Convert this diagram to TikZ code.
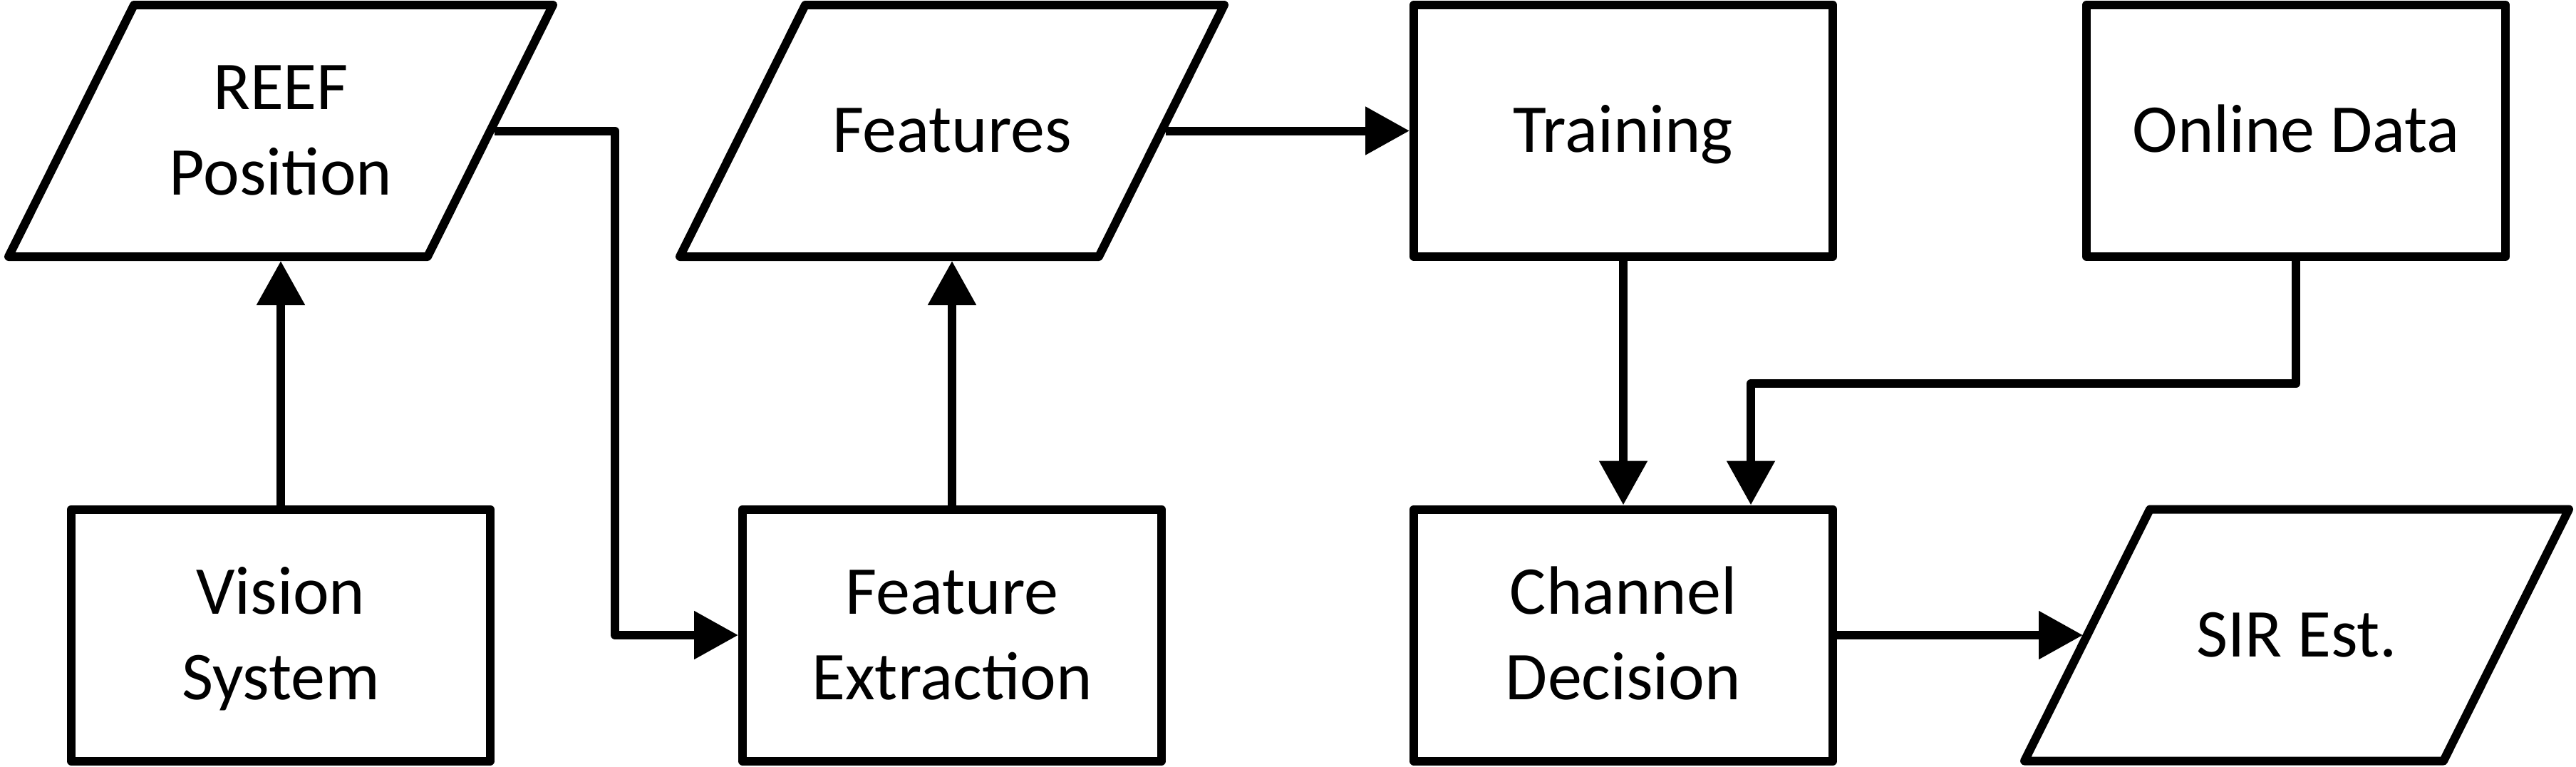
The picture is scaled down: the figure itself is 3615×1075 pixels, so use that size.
\documentclass[tikz,border=0pt]{standalone}
\usepackage{fontspec}
\setmainfont{Carlito}
\usetikzlibrary{arrows.meta,calc}
\newcommand\twolines[2]{\vbox{\halign{\hfil##\hfil\cr#1\cr#2\cr}}}
\newcommand\boxfont{\fontsize{24pt}{30pt}\selectfont}
\tikzset{
  procbox/.style={draw, line width=3pt, line join=round, minimum width=147pt,
    minimum height=88.25pt, inner sep=0pt, font=\boxfont,
    text height=15.2pt, text depth=0pt},
  iobox/.style={procbox, draw=none},
  twoline/.style={text height=45.2pt},
  boxline/.style={line width=3pt, line join=round},
  conn/.style={line width=3pt, line join=round,
    -{Triangle[length=15.5pt,width=16.25pt]}}
}
\begin{document}
\begin{tikzpicture}[x=0.25pt,y=0.25pt]
\fill[white] (0,0) rectangle (3615,1075);
\useasboundingbox (0,0) rectangle (3615,1075);
% top row
\node[iobox,twoline] (reef) at (394,891.5) {\twolines{REEF}{Position}};
\node[iobox] (feat) at (1336,891.5) {Features};
\node[procbox] (train) at (2278,891.5) {Training};
\node[procbox] (online) at (3222,891.5) {Online Data};
% bottom row
\node[procbox,twoline] (vision) at (394,184) {\twolines{Vision}{System}};
\node[procbox,twoline] (fext) at (1336,184) {\twolines{Feature}{Extraction}};
\node[procbox,twoline] (chan) at (2278,184) {\twolines{Channel}{Decision}};
\node[iobox] (sir) at (3223,184) {SIR Est.};
% parallelogram outlines
\foreach \n in {reef,feat,sir}{
  \draw[boxline] ($(\n.center)+(-382,-176.5)$) -- ++(588,0) -- ++(176,353) -- ++(-588,0) -- cycle;
}
% junctions
\coordinate (j1) at (863,184);
\coordinate (j2) at (2457,537);
% connectors
\draw[conn] (vision.north) -- (reef.south);
\draw[conn] (reef.east) -| (j1) -- (fext.west);
\draw[conn] (fext.north) -- (feat.south);
\draw[conn] (feat.east) -- (train.west);
\draw[conn] (train.south) -- (chan.north);
\draw[conn] (online.south) |- (j2) -- (j2 |- chan.north);
\draw[conn] (chan.east) -- (sir.west);
\end{tikzpicture}
\end{document}
